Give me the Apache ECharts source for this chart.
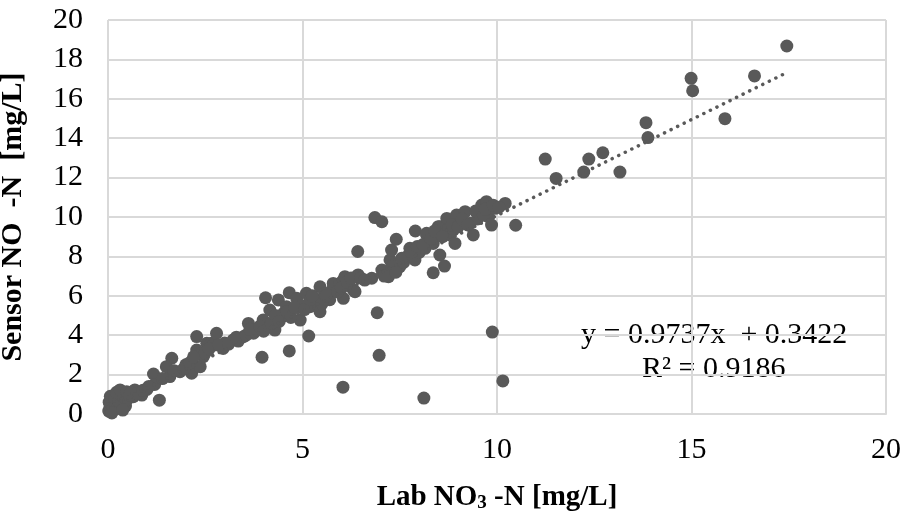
<!DOCTYPE html>
<html>
<head>
<meta charset="utf-8">
<script src="https://cdn.jsdelivr.net/npm/echarts@6/dist/echarts.min.js"></script>
<style>
	html, body { margin: 0; padding: 0; background: #fff; }
	#chart { width: 908px; height: 514px; }
</style>
</head>
<body>
<div id="chart"></div>
<script>
// lab value (x) and sensor value (y)
const labNO3 = [
	0.02, 0.05, 0.08, 0.03, 0.10, 0.12, 0.15, 0.06, 0.20, 0.18, 0.25, 0.28, 0.30, 0.35, 0.40, 0.45, 0.50, 0.22, 0.10, 0.38,
	0.31, 0.48, 0.65, 0.69, 0.87, 1.00, 1.17, 1.32, 1.20, 1.59, 1.64, 1.50, 1.85, 2.15, 2.00, 2.28, 2.28, 2.37, 2.45, 2.54,
	2.66, 2.71, 2.79, 2.96, 3.00, 3.22, 3.35, 3.48, 3.61, 3.74, 3.82, 3.96, 3.99, 4.05, 4.10, 4.16, 4.29, 4.38, 4.45, 4.51,
	4.59, 4.66, 4.66, 4.85, 4.94, 5.00, 5.10, 5.16, 5.19, 5.30, 5.36, 5.45, 5.45, 5.58, 5.70, 5.79, 5.79, 5.96, 6.04, 6.05,
	6.05, 6.09, 6.20, 6.31, 6.35, 6.39, 6.42, 6.43, 6.78, 6.86, 6.92, 6.97, 7.04, 7.04, 7.21, 7.25, 7.29, 7.41, 7.50, 7.60,
	7.68, 7.76, 7.89, 7.90, 8.00, 8.12, 8.15, 8.19, 8.19, 8.36, 8.36, 8.49, 8.53, 8.53, 8.65, 8.71, 8.75, 8.79, 8.88, 8.92,
	8.96, 9.18, 9.31, 9.39, 9.50, 9.61, 9.73, 9.78, 9.86, 9.88, 9.95, 10.15, 10.21, 10.48, 11.24, 11.52, 12.23, 12.36, 12.72, 13.16,
	13.83, 13.88, 14.99, 15.03, 15.86, 16.62, 17.45,
	0.55, 0.60, 0.75, 0.90, 1.05, 1.40, 1.70, 1.95, 2.10, 2.20, 2.50, 2.60, 2.85, 3.10, 3.30, 3.55, 3.65, 3.90, 4.00, 4.20,
	4.30, 4.40, 4.60, 4.70, 4.80, 5.05, 5.20, 5.25, 5.50, 5.60, 5.90, 6.00, 6.15, 6.25, 6.50, 6.60, 7.10, 7.30, 7.40, 7.55,
	7.80, 7.95, 8.10, 8.30, 8.40, 8.60, 8.85, 9.00, 9.10, 9.25, 9.45, 9.65, 9.70, 9.90, 10.05
];
const sensorNO3 = [
	0.15, 0.30, 0.45, 0.60, 0.20, 0.70, 0.35, 0.90, 0.50, 0.80, 0.30, 0.65, 1.05, 0.55, 0.85, 0.40, 0.75, 1.10, 0.05, 0.20,
	1.22, 1.13, 0.88, 1.22, 0.96, 1.25, 2.03, 0.70, 1.50, 1.90, 2.83, 2.40, 2.15, 2.07, 2.50, 3.93, 3.25, 2.40, 2.91, 3.59,
	3.59, 3.50, 4.10, 3.33, 3.60, 3.76, 3.70, 3.92, 4.60, 4.10, 4.26, 2.88, 4.77, 5.90, 4.40, 5.28, 4.26, 5.79, 4.90, 5.11,
	5.45, 6.16, 3.20, 5.87, 4.77, 5.50, 6.13, 3.96, 5.45, 5.90, 5.70, 5.19, 6.46, 6.13, 5.80, 6.38, 6.63, 6.63, 1.36, 5.87,
	6.80, 6.97, 6.50, 6.29, 6.21, 6.97, 8.25, 7.06, 6.89, 9.97, 5.14, 2.98, 9.76, 7.31, 6.97, 7.82, 8.32, 8.87, 7.48, 7.70,
	7.98, 8.41, 7.82, 9.29, 8.20, 0.81, 8.41, 9.09, 9.17, 8.66, 7.17, 9.51, 8.07, 9.51, 7.51, 9.93, 9.40, 9.17, 9.34, 8.66,
	10.10, 10.27, 9.68, 9.09, 9.90, 10.61, 10.78, 10.02, 9.59, 4.16, 10.44, 1.68, 10.69, 9.58, 12.94, 11.96, 12.28, 12.94, 13.26, 12.28,
	14.79, 14.03, 17.04, 16.41, 14.99, 17.16, 18.68,
	0.95, 1.10, 1.05, 1.20, 1.40, 1.80, 2.20, 2.30, 2.60, 2.90, 3.10, 3.30, 3.50, 3.55, 3.90, 4.00, 4.30, 4.45, 4.20, 4.60,
	5.00, 4.70, 5.20, 4.90, 5.40, 5.30, 5.80, 6.00, 5.60, 6.00, 6.20, 6.40, 6.70, 6.90, 6.90, 6.80, 7.00, 7.50, 7.20, 7.90,
	8.20, 8.50, 8.60, 8.90, 9.30, 9.00, 9.60, 9.50, 9.90, 9.60, 10.30, 10.10, 10.40, 10.60, 10.50
];

// linear trendline ends and its label
const trendX = [0, 17.45];
const trendY = [0.34, 17.33];
const trendLabel = ["y = 0.9737x  + 0.3422", "R\u00b2 = 0.9186"];

const axisTicks = { xMax: 20, xStep: 5, yMax: 20, yStep: 2 };

const font = "'Liberation Serif', 'Times New Roman', serif";
const grey = "#595959";

let points = labNO3.map((x, i) => [x, sensorNO3[i]]);
let trend = trendX.map((x, i) => [x, trendY[i]]);

let chart = echarts.init(document.getElementById("chart"), null, { renderer: "canvas" });

let option = {
	animation: false,
	backgroundColor: "#fff",
	textStyle: { fontFamily: font },
	grid: { left: 108, right: 22, top: 20, bottom: 100, outerBoundsMode: "none", containLabel: false },
	xAxis: {
		type: "value",
		min: 0,
		max: axisTicks.xMax,
		interval: axisTicks.xStep,
		axisLine: { show: true, lineStyle: { color: "#d9d9d9", width: 2 } },
		axisTick: { show: false },
		splitLine: { lineStyle: { color: "#d9d9d9", width: 2 } },
		axisLabel: { color: "#000", fontSize: 30, fontFamily: font, margin: 21 },
		name: "{t|Lab NO}{s|3}{t| -N [mg/L]}",
		nameLocation: "middle",
		nameGap: 68,
		nameTextStyle: {
			rich: {
				t: { fontSize: 29, fontWeight: "bold", fontFamily: font, color: "#000" },
				s: { fontSize: 19, fontWeight: "bold", fontFamily: font, color: "#000", padding: [12, 0, 0, 0] },
			},
		},
	},
	yAxis: {
		type: "value",
		min: 0,
		max: axisTicks.yMax,
		interval: axisTicks.yStep,
		axisLine: { show: false },
		axisTick: { show: false },
		splitLine: { lineStyle: { color: "#d9d9d9", width: 2 } },
		axisLabel: { color: "#000", fontSize: 30, fontFamily: font, margin: 25 },
		name: "Sensor NO  -N  [mg/L]",
		nameLocation: "middle",
		nameGap: 80,
		nameTextStyle: { fontSize: 30, fontWeight: "bold", fontFamily: font, color: "#000" },
	},
	series: [
		{
			name: "data",
			type: "scatter",
			data: points,
			symbol: "circle",
			symbolSize: 13,
			itemStyle: { color: grey, opacity: 1 },
			z: 2,
		},
		{
			name: "trend",
			type: "line",
			data: trend,
			symbol: "none",
			lineStyle: { color: grey, width: 3.5, type: [0.1, 7.2], cap: "round" },
			z: 3,
		},
	],
	graphic: [
		{
			type: "text",
			left: 581,
			top: 320,
			style: { text: trendLabel[0], font: "30px " + font, fill: "#000" },
		},
		{
			type: "text",
			left: 642,
			top: 354,
			style: { text: trendLabel[1], font: "30px " + font, fill: "#000" },
		},
	],
};

chart.setOption(option);
</script>
</body>
</html>
